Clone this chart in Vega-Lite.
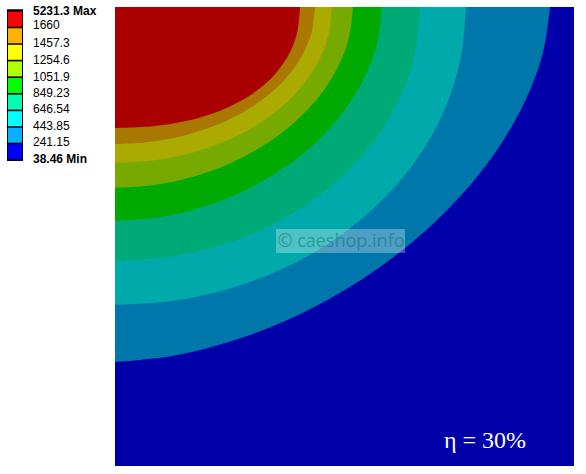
{
  "$schema": "https://vega.github.io/schema/vega-lite/v6.json",
  "width": 574,
  "height": 459,
  "autosize": {"type": "none"},
  "padding": {"left": 0, "top": 7, "right": 0, "bottom": 0},
  "background": "white",
  "view": {"stroke": null},
  "datasets": {
    "bounds": [
      {"b": "bt", "x": 0, "y": 355}, {"b": "bt", "x": 58.8, "y": 348.8}, {"b": "bt", "x": 127.6, "y": 330.6}, {"b": "bt", "x": 197.0, "y": 301.2}, {"b": "bt", "x": 262.5, "y": 261.8}, {"b": "bt", "x": 320.8, "y": 214.2}, {"b": "bt", "x": 369.1, "y": 160.8}, {"b": "bt", "x": 405.1, "y": 104.2}, {"b": "bt", "x": 427.4, "y": 48.0}, {"b": "bt", "x": 435, "y": 0},
      {"b": "cy", "x": 0, "y": 298}, {"b": "cy", "x": 60.9, "y": 293.5}, {"b": "cy", "x": 120.0, "y": 280.0}, {"b": "cy", "x": 175.5, "y": 258.1}, {"b": "cy", "x": 225.6, "y": 228.3}, {"b": "cy", "x": 268.9, "y": 191.6}, {"b": "cy", "x": 304.0, "y": 149.0}, {"b": "cy", "x": 329.8, "y": 101.9}, {"b": "cy", "x": 345.7, "y": 51.7}, {"b": "cy", "x": 351, "y": 0},
      {"b": "tg", "x": 0, "y": 254}, {"b": "tg", "x": 52.9, "y": 250.1}, {"b": "tg", "x": 104.3, "y": 238.7}, {"b": "tg", "x": 152.5, "y": 220.0}, {"b": "tg", "x": 196.1, "y": 194.6}, {"b": "tg", "x": 233.6, "y": 163.3}, {"b": "tg", "x": 264.1, "y": 127.0}, {"b": "tg", "x": 286.6, "y": 86.9}, {"b": "tg", "x": 300.4, "y": 44.1}, {"b": "tg", "x": 305, "y": 0},
      {"b": "gr", "x": 0, "y": 214}, {"b": "gr", "x": 42.3, "y": 210.6}, {"b": "gr", "x": 86.3, "y": 200.4}, {"b": "gr", "x": 128.7, "y": 183.9}, {"b": "gr", "x": 167.7, "y": 161.6}, {"b": "gr", "x": 201.7, "y": 134.4}, {"b": "gr", "x": 229.5, "y": 103.2}, {"b": "gr", "x": 250.1, "y": 69.2}, {"b": "gr", "x": 262.7, "y": 33.9}, {"b": "gr", "x": 267, "y": 0},
      {"b": "yg", "x": 0, "y": 181}, {"b": "yg", "x": 38.8, "y": 178.1}, {"b": "yg", "x": 78.3, "y": 169.7}, {"b": "yg", "x": 116.1, "y": 155.9}, {"b": "yg", "x": 150.5, "y": 137.3}, {"b": "yg", "x": 180.5, "y": 114.5}, {"b": "yg", "x": 205.0, "y": 88.3}, {"b": "yg", "x": 223.1, "y": 59.5}, {"b": "yg", "x": 234.2, "y": 29.5}, {"b": "yg", "x": 238, "y": 0},
      {"b": "ye", "x": 0, "y": 156}, {"b": "ye", "x": 37.7, "y": 153.6}, {"b": "ye", "x": 74.2, "y": 146.6}, {"b": "ye", "x": 108.5, "y": 135.1}, {"b": "ye", "x": 139.5, "y": 119.5}, {"b": "ye", "x": 166.2, "y": 100.3}, {"b": "ye", "x": 187.9, "y": 78.0}, {"b": "ye", "x": 203.9, "y": 53.4}, {"b": "ye", "x": 213.7, "y": 27.1}, {"b": "ye", "x": 217, "y": 0},
      {"b": "or", "x": 0, "y": 137}, {"b": "or", "x": 34.7, "y": 134.9}, {"b": "or", "x": 68.4, "y": 128.7}, {"b": "or", "x": 100.0, "y": 118.6}, {"b": "or", "x": 128.6, "y": 104.9}, {"b": "or", "x": 153.2, "y": 88.1}, {"b": "or", "x": 173.2, "y": 68.5}, {"b": "or", "x": 187.9, "y": 46.9}, {"b": "or", "x": 197.0, "y": 23.8}, {"b": "or", "x": 200, "y": 0},
      {"b": "rd", "x": 0, "y": 121}, {"b": "rd", "x": 37.7, "y": 119.3}, {"b": "rd", "x": 69.8, "y": 114.3}, {"b": "rd", "x": 98.5, "y": 106.2}, {"b": "rd", "x": 123.8, "y": 95.0}, {"b": "rd", "x": 145.2, "y": 81.0}, {"b": "rd", "x": 162.3, "y": 64.4}, {"b": "rd", "x": 174.8, "y": 45.6}, {"b": "rd", "x": 182.4, "y": 24.6}, {"b": "rd", "x": 185, "y": 0}
    ],
    "boxes": [
      {"lv": "rd", "t": 4.7, "u": 19.7},
      {"lv": "or", "t": 21.3, "u": 36.3},
      {"lv": "ye", "t": 37.8, "u": 52.8},
      {"lv": "yg", "t": 54.4, "u": 69.4},
      {"lv": "gr", "t": 71.0, "u": 86.0},
      {"lv": "tg", "t": 87.6, "u": 102.6},
      {"lv": "cy", "t": 104.2, "u": 119.2},
      {"lv": "bt", "t": 120.7, "u": 135.7},
      {"lv": "dk", "t": 137.3, "u": 152.3}
    ],
    "labels": [
      {"txt": "5231.3 Max", "y": 3.7, "bold": 1},
      {"txt": "1660", "y": 18, "bold": 0},
      {"txt": "1457.3", "y": 35.7, "bold": 0},
      {"txt": "1254.6", "y": 53, "bold": 0},
      {"txt": "1051.9", "y": 69.7, "bold": 0},
      {"txt": "849.23", "y": 86.3, "bold": 0},
      {"txt": "646.54", "y": 102.3, "bold": 0},
      {"txt": "443.85", "y": 119, "bold": 0},
      {"txt": "241.15", "y": 135, "bold": 0},
      {"txt": "38.46 Min", "y": 151.5, "bold": 1}
    ]
  },
  "layer": [
    {
      "data": {"values": [{"x0": 0, "x1": 459, "y0": 0, "y1": 459}]},
      "mark": {"type": "rect", "color": "#0000AA"},
      "encoding": {
        "x": {"field": "x0", "type": "quantitative", "scale": {"domain": [-115, 459], "nice": false, "zero": false}, "axis": null},
        "x2": {"field": "x1"},
        "y": {"field": "y0", "type": "quantitative", "scale": {"domain": [0, 459], "reverse": true, "nice": false, "zero": false}, "axis": null},
        "y2": {"field": "y1"}
      }
    },
    {
      "data": {"name": "bounds"},
      "encoding": {
        "x": {"field": "x", "type": "quantitative", "axis": null},
        "y": {"field": "y", "type": "quantitative", "axis": null, "stack": null},
        "y2": {"datum": 0},
        "color": {"field": "b", "type": "nominal", "legend": null,
          "scale": {"domain": ["rd", "or", "ye", "yg", "gr", "tg", "cy", "bt", "dk"],
                    "range": ["#AA0000", "#AA7700", "#AAAA00", "#77AA00", "#00AA00", "#00AA77", "#00AAAA", "#0077AA", "#0000AA"]}}
      },
      "layer": [
        {"transform": [{"filter": "datum.b == 'bt'"}], "mark": {"type": "area", "interpolate": "catmull-rom"}},
        {"transform": [{"filter": "datum.b == 'cy'"}], "mark": {"type": "area", "interpolate": "catmull-rom"}},
        {"transform": [{"filter": "datum.b == 'tg'"}], "mark": {"type": "area", "interpolate": "catmull-rom"}},
        {"transform": [{"filter": "datum.b == 'gr'"}], "mark": {"type": "area", "interpolate": "catmull-rom"}},
        {"transform": [{"filter": "datum.b == 'yg'"}], "mark": {"type": "area", "interpolate": "catmull-rom"}},
        {"transform": [{"filter": "datum.b == 'ye'"}], "mark": {"type": "area", "interpolate": "catmull-rom"}},
        {"transform": [{"filter": "datum.b == 'or'"}], "mark": {"type": "area", "interpolate": "catmull-rom"}},
        {"transform": [{"filter": "datum.b == 'rd'"}], "mark": {"type": "area", "interpolate": "catmull-rom"}}
      ]
    },
    {
      "data": {"values": [{"x0": 161, "x1": 290, "y0": 222, "y1": 246}]},
      "mark": {"type": "rect", "color": "white", "opacity": 0.3},
      "encoding": {
        "x": {"field": "x0", "type": "quantitative", "axis": null},
        "x2": {"field": "x1"},
        "y": {"field": "y0", "type": "quantitative", "axis": null},
        "y2": {"field": "y1"}
      }
    },
    {
      "data": {"values": [{"x": 226, "y": 235, "t": "© caeshop.info"}]},
      "mark": {"type": "text", "font": "Open Sans", "fontSize": 18, "align": "center", "baseline": "middle", "color": "#006a75", "opacity": 0.45},
      "encoding": {
        "x": {"field": "x", "type": "quantitative", "axis": null},
        "y": {"field": "y", "type": "quantitative", "axis": null},
        "text": {"field": "t"}
      }
    },
    {
      "data": {"values": [{"x": 329, "y": 441, "t": "η = 30%"}]},
      "mark": {"type": "text", "font": "Liberation Serif", "fontSize": 24, "align": "left", "baseline": "alphabetic", "color": "white"},
      "encoding": {
        "x": {"field": "x", "type": "quantitative", "axis": null},
        "y": {"field": "y", "type": "quantitative", "axis": null},
        "text": {"field": "t"}
      }
    },
    {
      "data": {"values": [{"x0": -108, "x1": -92, "y0": 2.3, "y1": 154}]},
      "mark": {"type": "rect", "color": "black"},
      "encoding": {
        "x": {"field": "x0", "type": "quantitative", "axis": null},
        "x2": {"field": "x1"},
        "y": {"field": "y0", "type": "quantitative", "axis": null},
        "y2": {"field": "y1"}
      }
    },
    {
      "data": {"name": "boxes"},
      "mark": {"type": "rect"},
      "encoding": {
        "x": {"datum": -107, "type": "quantitative"},
        "x2": {"datum": -93},
        "y": {"field": "t", "type": "quantitative", "axis": null},
        "y2": {"field": "u"},
        "fill": {"field": "lv", "type": "nominal", "legend": null,
          "scale": {"domain": ["rd", "or", "ye", "yg", "gr", "tg", "cy", "bt", "dk"],
                    "range": ["#FF0000", "#FFB200", "#FFFF00", "#B2FF00", "#00FF00", "#00FFB2", "#00FFFF", "#00B2FF", "#0000FF"]}}
      }
    },
    {
      "data": {"name": "labels"},
      "transform": [{"filter": "datum.bold == 0"}],
      "mark": {"type": "text", "font": "Liberation Sans Narrow, Liberation Sans", "fontSize": 12, "align": "left", "baseline": "middle", "color": "black"},
      "encoding": {
        "x": {"datum": -82, "type": "quantitative"},
        "y": {"field": "y", "type": "quantitative", "axis": null},
        "text": {"field": "txt"}
      }
    },
    {
      "data": {"name": "labels"},
      "transform": [{"filter": "datum.bold == 1"}],
      "mark": {"type": "text", "font": "Liberation Sans", "fontSize": 12, "fontWeight": "bold", "align": "left", "baseline": "middle", "color": "black"},
      "encoding": {
        "x": {"datum": -82, "type": "quantitative"},
        "y": {"field": "y", "type": "quantitative", "axis": null},
        "text": {"field": "txt"}
      }
    }
  ]
}
